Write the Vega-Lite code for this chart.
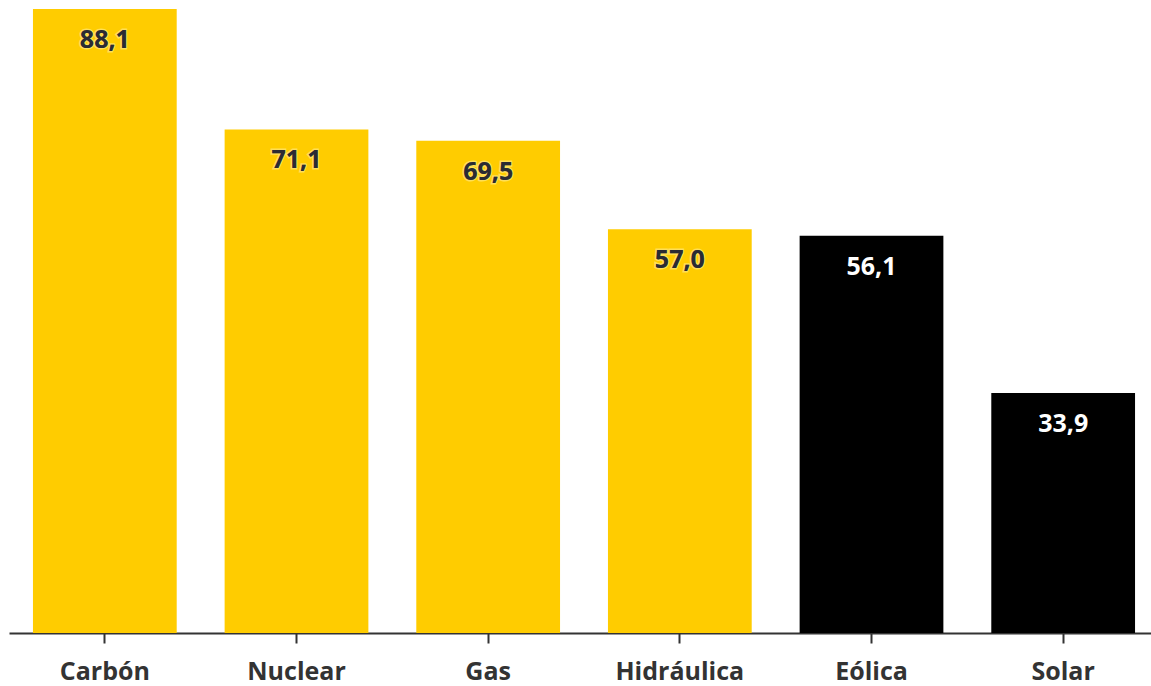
{
  "$schema": "https://vega.github.io/schema/vega-lite/v6.json",
  "autosize": {"type": "none"},
  "width": 1150,
  "height": 624,
  "padding": {"left": 9, "top": 9, "right": 0, "bottom": 53},
  "background": "white",
  "config": {"view": {"stroke": null}, "font": "Open Sans"},
  "data": {"values": [
    {"fuente": "Carbón", "valor": 88.1, "label": "88,1", "tipo": "conv"},
    {"fuente": "Nuclear", "valor": 71.1, "label": "71,1", "tipo": "conv"},
    {"fuente": "Gas", "valor": 69.5, "label": "69,5", "tipo": "conv"},
    {"fuente": "Hidráulica", "valor": 57.0, "label": "57,0", "tipo": "conv"},
    {"fuente": "Eólica", "valor": 56.1, "label": "56,1", "tipo": "renov"},
    {"fuente": "Solar", "valor": 33.9, "label": "33,9", "tipo": "renov"}
  ]},
  "encoding": {
    "x": {"field": "fuente", "type": "nominal", "sort": null,
      "scale": {"paddingInner": 0.25, "paddingOuter": 0.125},
      "axis": {"title": null, "labelAngle": 0, "labelFont": "Open Sans", "labelFontWeight": "bold", "labelFontSize": 25, "labelColor": "#333333", "domainColor": "#333333", "domainWidth": 2, "tickColor": "#333333", "tickWidth": 2, "tickSize": 10, "labelPadding": 16}},
    "y": {"field": "valor", "type": "quantitative", "scale": {"domain": [0, 88.1]}, "axis": null}
  },
  "layer": [
    {"mark": {"type": "bar"},
      "encoding": {"color": {"field": "tipo", "type": "nominal", "scale": {"domain": ["conv", "renov"], "range": ["#FFCC00", "#000000"]}, "legend": null}}},
    {"mark": {"type": "text", "baseline": "alphabetic", "dy": 39, "fontSize": 25, "fontWeight": "bold", "font": "Open Sans", "stroke": "#fff2b0", "strokeWidth": 3, "strokeOpacity": 0.5},
      "transform": [{"filter": "datum.tipo == 'conv'"}],
      "encoding": {"text": {"field": "label"}}},
    {"mark": {"type": "text", "baseline": "alphabetic", "dy": 39, "fontSize": 25, "fontWeight": "bold", "font": "Open Sans"},
      "encoding": {"text": {"field": "label"},
        "color": {"field": "tipo", "type": "nominal", "scale": {"domain": ["conv", "renov"], "range": ["#2b2b33", "#ffffff"]}, "legend": null}}}
  ],
  "resolve": {"scale": {"color": "independent"}}
}
